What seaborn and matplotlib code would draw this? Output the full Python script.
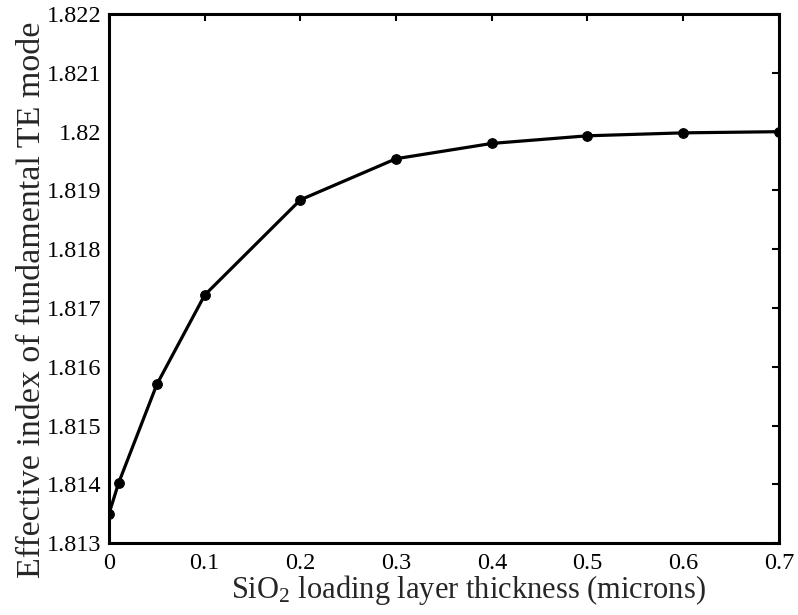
import matplotlib
matplotlib.use("Agg")
import matplotlib.pyplot as plt
import seaborn as sns
import pandas as pd

# 데이터
thickness = [0, 0.01, 0.05, 0.1, 0.2, 0.3, 0.4, 0.5, 0.6, 0.7]
neff = [1.8135, 1.81402, 1.81570, 1.81722, 1.81884, 1.81954, 1.81980, 1.81993, 1.81998, 1.82000]
xticks = [0, 0.1, 0.2, 0.3, 0.4, 0.5, 0.6, 0.7]
yticks = [1.813, 1.814, 1.815, 1.816, 1.817, 1.818, 1.819, 1.82, 1.821, 1.822]
ytick_labels = ['1.813', '1.814', '1.815', '1.816', '1.817', '1.818', '1.819', '1.82', '1.821', '1.822']

df = pd.DataFrame({'t': thickness, 'n': neff})

sns.set_style('white')
plt.rcParams['font.family'] = ['Liberation Serif', 'DejaVu Serif']
plt.rcParams['mathtext.fontset'] = 'custom'
plt.rcParams['mathtext.rm'] = 'Liberation Serif'
plt.rcParams['mathtext.it'] = 'Liberation Serif:italic'

fig = plt.figure(figsize=(7.98, 6.15), dpi=100)
ax = fig.add_axes([0.1366, 0.117, 0.8394, 0.86])

sns.lineplot(data=df, x='t', y='n', ax=ax, color='black', linewidth=2.3,
             marker='o', markersize=7, markerfacecolor='black', markeredgecolor='black')

ax.set_xlim(0, 0.7)
ax.set_ylim(1.813, 1.822)
ax.set_xticks(xticks)
ax.set_xticklabels([f'{v:g}' for v in xticks])
ax.set_yticks(yticks)
ax.set_yticklabels(ytick_labels)
ax.tick_params(direction='in', length=5, width=1.5, labelsize=17.5, top=True, right=True,
               colors='black')
ax.tick_params(axis='x', pad=7.5)
ax.tick_params(axis='y', pad=5.5)
for s in ax.spines.values():
    s.set_linewidth(2.2)
    s.set_color('black')

ax.set_xlabel('SiO$_2$ loading layer thickness (microns)', fontsize=22)
ax.set_ylabel('Effective index of fundamental TE mode', fontsize=24.5)
ax.xaxis.set_label_coords(0.537, -0.056)
ax.yaxis.set_label_coords(-0.093, 0.46)

plt.savefig('out.png', dpi=100)
plt.close()
